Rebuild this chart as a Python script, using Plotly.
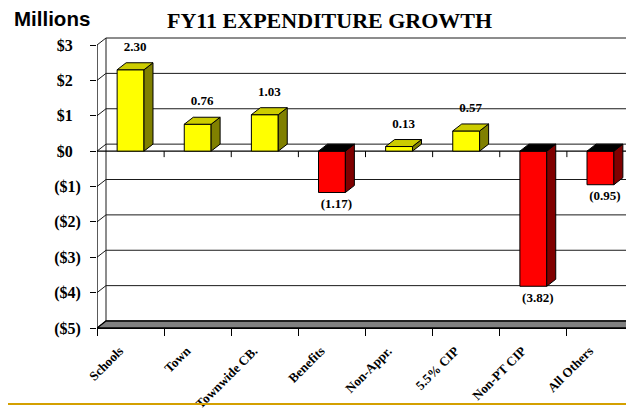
import plotly.graph_objects as go

categories = ["Schools", "Town", "Townwide CB.", "Benefits", "Non-Appr.", "5.5% CIP", "Non-PT CIP", "All Others"]
values = [2.30, 0.76, 1.03, -1.17, 0.13, 0.57, -3.82, -0.95]
y_tick_vals = [3, 2, 1, 0, -1, -2, -3, -4, -5]
y_tick_text = ["$3\u2002", "$2\u2002", "$1\u2002", "$0\u2002", "($1)", "($2)", "($3)", "($4)", "($5)"]
title_text = "FY11 EXPENDITURE GROWTH"
unit_text = "Millions"

# the page body adds an 8px margin: figure pixel = page pixel - OFF
OFF = 8
W, H = 634 - OFF, 414 - OFF
ML, MR = 97 - OFF, 0
MT = 36 - OFF
MB = H - (328 - OFF)
plot_w = W - ML - MR
plot_h = H - MT - MB
n = len(categories)
px_per_cat = plot_w / n
ymin, ymax_front = -5, 3
px_per_unit = (328 - 45) / (ymax_front - ymin)
ytop = ymax_front + (45 - 36) / px_per_unit
DX = 9 / px_per_cat
DY = 7 / px_per_unit
BW = 0.40

POS_FRONT, POS_TOP, POS_SIDE = "#FFFF00", "#CCCC00", "#808000"
NEG_FRONT, NEG_TOP, NEG_SIDE = "#FF0000", "#000000", "#800000"
SERIF = "Liberation Serif"


def py(page_y):
    fy = page_y - OFF
    return (MT + plot_h - fy) / plot_h


def px(page_x):
    fx = page_x - OFF
    return (fx - ML) / plot_w


fig = go.Figure()

shapes = []
line_k = dict(color="#1a1a1a", width=1)
left = -0.5
right = n - 0.5 + 1
for t in y_tick_vals:
    shapes.append(dict(type="line", xref="x", yref="y", x0=left + DX, x1=right, y0=t + DY, y1=t + DY,
                       line=line_k, layer="below"))
    shapes.append(dict(type="line", xref="x", yref="y", x0=left, x1=left + DX, y0=t, y1=t + DY,
                       line=line_k, layer="below"))
shapes.append(dict(type="line", xref="x", yref="y", x0=left + DX, x1=left + DX, y0=ymin + DY, y1=ymax_front + DY,
                   line=line_k, layer="below"))
shapes.append(dict(type="line", xref="x", yref="y", x0=left, x1=left, y0=ymin, y1=ymax_front,
                   line=dict(color="black", width=1.3), layer="above"))
shapes.append(dict(type="path", xref="x", yref="y",
                   path=f"M {left},{ymin} L {right},{ymin} L {right + DX},{ymin + DY} L {left + DX},{ymin + DY} Z",
                   fillcolor="#808080", line=dict(color="black", width=1.3), layer="below"))
shapes.append(dict(type="line", xref="x", yref="y", x0=left, x1=right, y0=0, y1=0,
                   line=dict(color="black", width=1.3), layer="below"))
for k in range(1, n + 1):
    b = left + k
    shapes.append(dict(type="line", xref="x", yref="y", x0=b, x1=b, y0=0, y1=-6 / px_per_unit,
                       line=dict(color="black", width=1), layer="below"))
shapes.append(dict(type="line", xref="paper", yref="paper",
                   x0=px(0) - 0.05, x1=1.05, y0=py(404), y1=py(404),
                   line=dict(color="#D4A000", width=2), layer="above"))

fig.add_trace(go.Bar(
    x=list(range(n)), y=values, width=BW,
    marker=dict(color=[POS_FRONT if v >= 0 else NEG_FRONT for v in values],
                line=dict(color="black", width=1)),
    showlegend=False, hoverinfo="skip",
))

for i, v in enumerate(values):
    x1 = i + BW / 2
    x0 = i - BW / 2
    side_c = POS_SIDE if v >= 0 else NEG_SIDE
    top_c = POS_TOP if v >= 0 else NEG_TOP
    fig.add_trace(go.Scatter(
        x=[x1, x1, x1 + DX, x1 + DX, x1], y=[0, v, v + DY, DY, 0],
        mode="lines", fill="toself", fillcolor=side_c,
        line=dict(color="black", width=1), showlegend=False, hoverinfo="skip"))
    yt = max(v, 0)
    fig.add_trace(go.Scatter(
        x=[x0, x1, x1 + DX, x0 + DX, x0], y=[yt, yt, yt + DY, yt + DY, yt],
        mode="lines", fill="toself", fillcolor=top_c,
        line=dict(color="black", width=1), showlegend=False, hoverinfo="skip"))

lab_x = [i + DX / 2 for i in range(n)]
lab_y = [v + 22 / px_per_unit if v >= 0 else v - 12 / px_per_unit for v in values]
lab_t = [f"{v:.2f}" if v >= 0 else f"({abs(v):.2f})" for v in values]
fig.add_trace(go.Scatter(
    x=lab_x, y=lab_y, text=lab_t, mode="text",
    textfont=dict(family=SERIF, size=13, color="black", weight="bold"),
    showlegend=False, hoverinfo="skip", cliponaxis=False))

fig.update_layout(
    width=W, height=H,
    margin=dict(l=ML, r=MR, t=MT, b=MB, pad=0, autoexpand=False),
    paper_bgcolor="white", plot_bgcolor="white",
    shapes=shapes,
    xaxis=dict(
        range=[-0.5, n - 0.5], tickmode="array", tickvals=[i - 11 / px_per_cat for i in range(n)],
        ticktext=categories,
        tickangle=-45, ticks="", showgrid=False, zeroline=False,
        showline=True, linecolor="black", linewidth=1.3,
        tickfont=dict(family=SERIF, size=13, color="black", weight="bold"),
        minor=dict(ticks="outside", tick0=-0.5, dtick=1, ticklen=7, tickcolor="black", tickwidth=1, showgrid=False),
        ticklabelstandoff=9, automargin=False,
        fixedrange=True,
    ),
    yaxis=dict(
        range=[ymin, ytop], tickmode="array", tickvals=y_tick_vals, ticktext=y_tick_text,
        ticks="outside", ticklen=6, tickcolor="black", showgrid=False, zeroline=False, showline=False,
        tickfont=dict(family=SERIF, size=16, color="black", weight="bold"),
        ticklabelstandoff=6, automargin=False,
        fixedrange=True,
    ),
    annotations=[
        dict(text=title_text, xref="paper", yref="paper",
             x=px(329.5), y=py(20), xanchor="center", yanchor="middle",
             showarrow=False, font=dict(family=SERIF, size=22, color="black", weight="bold")),
        dict(text=unit_text, xref="paper", yref="paper",
             x=px(12), y=py(18.5), xanchor="left", yanchor="middle",
             showarrow=False, font=dict(family="Liberation Sans", size=20.5, color="black", weight="bold")),
    ],
)
fig.write_html("out.html")
